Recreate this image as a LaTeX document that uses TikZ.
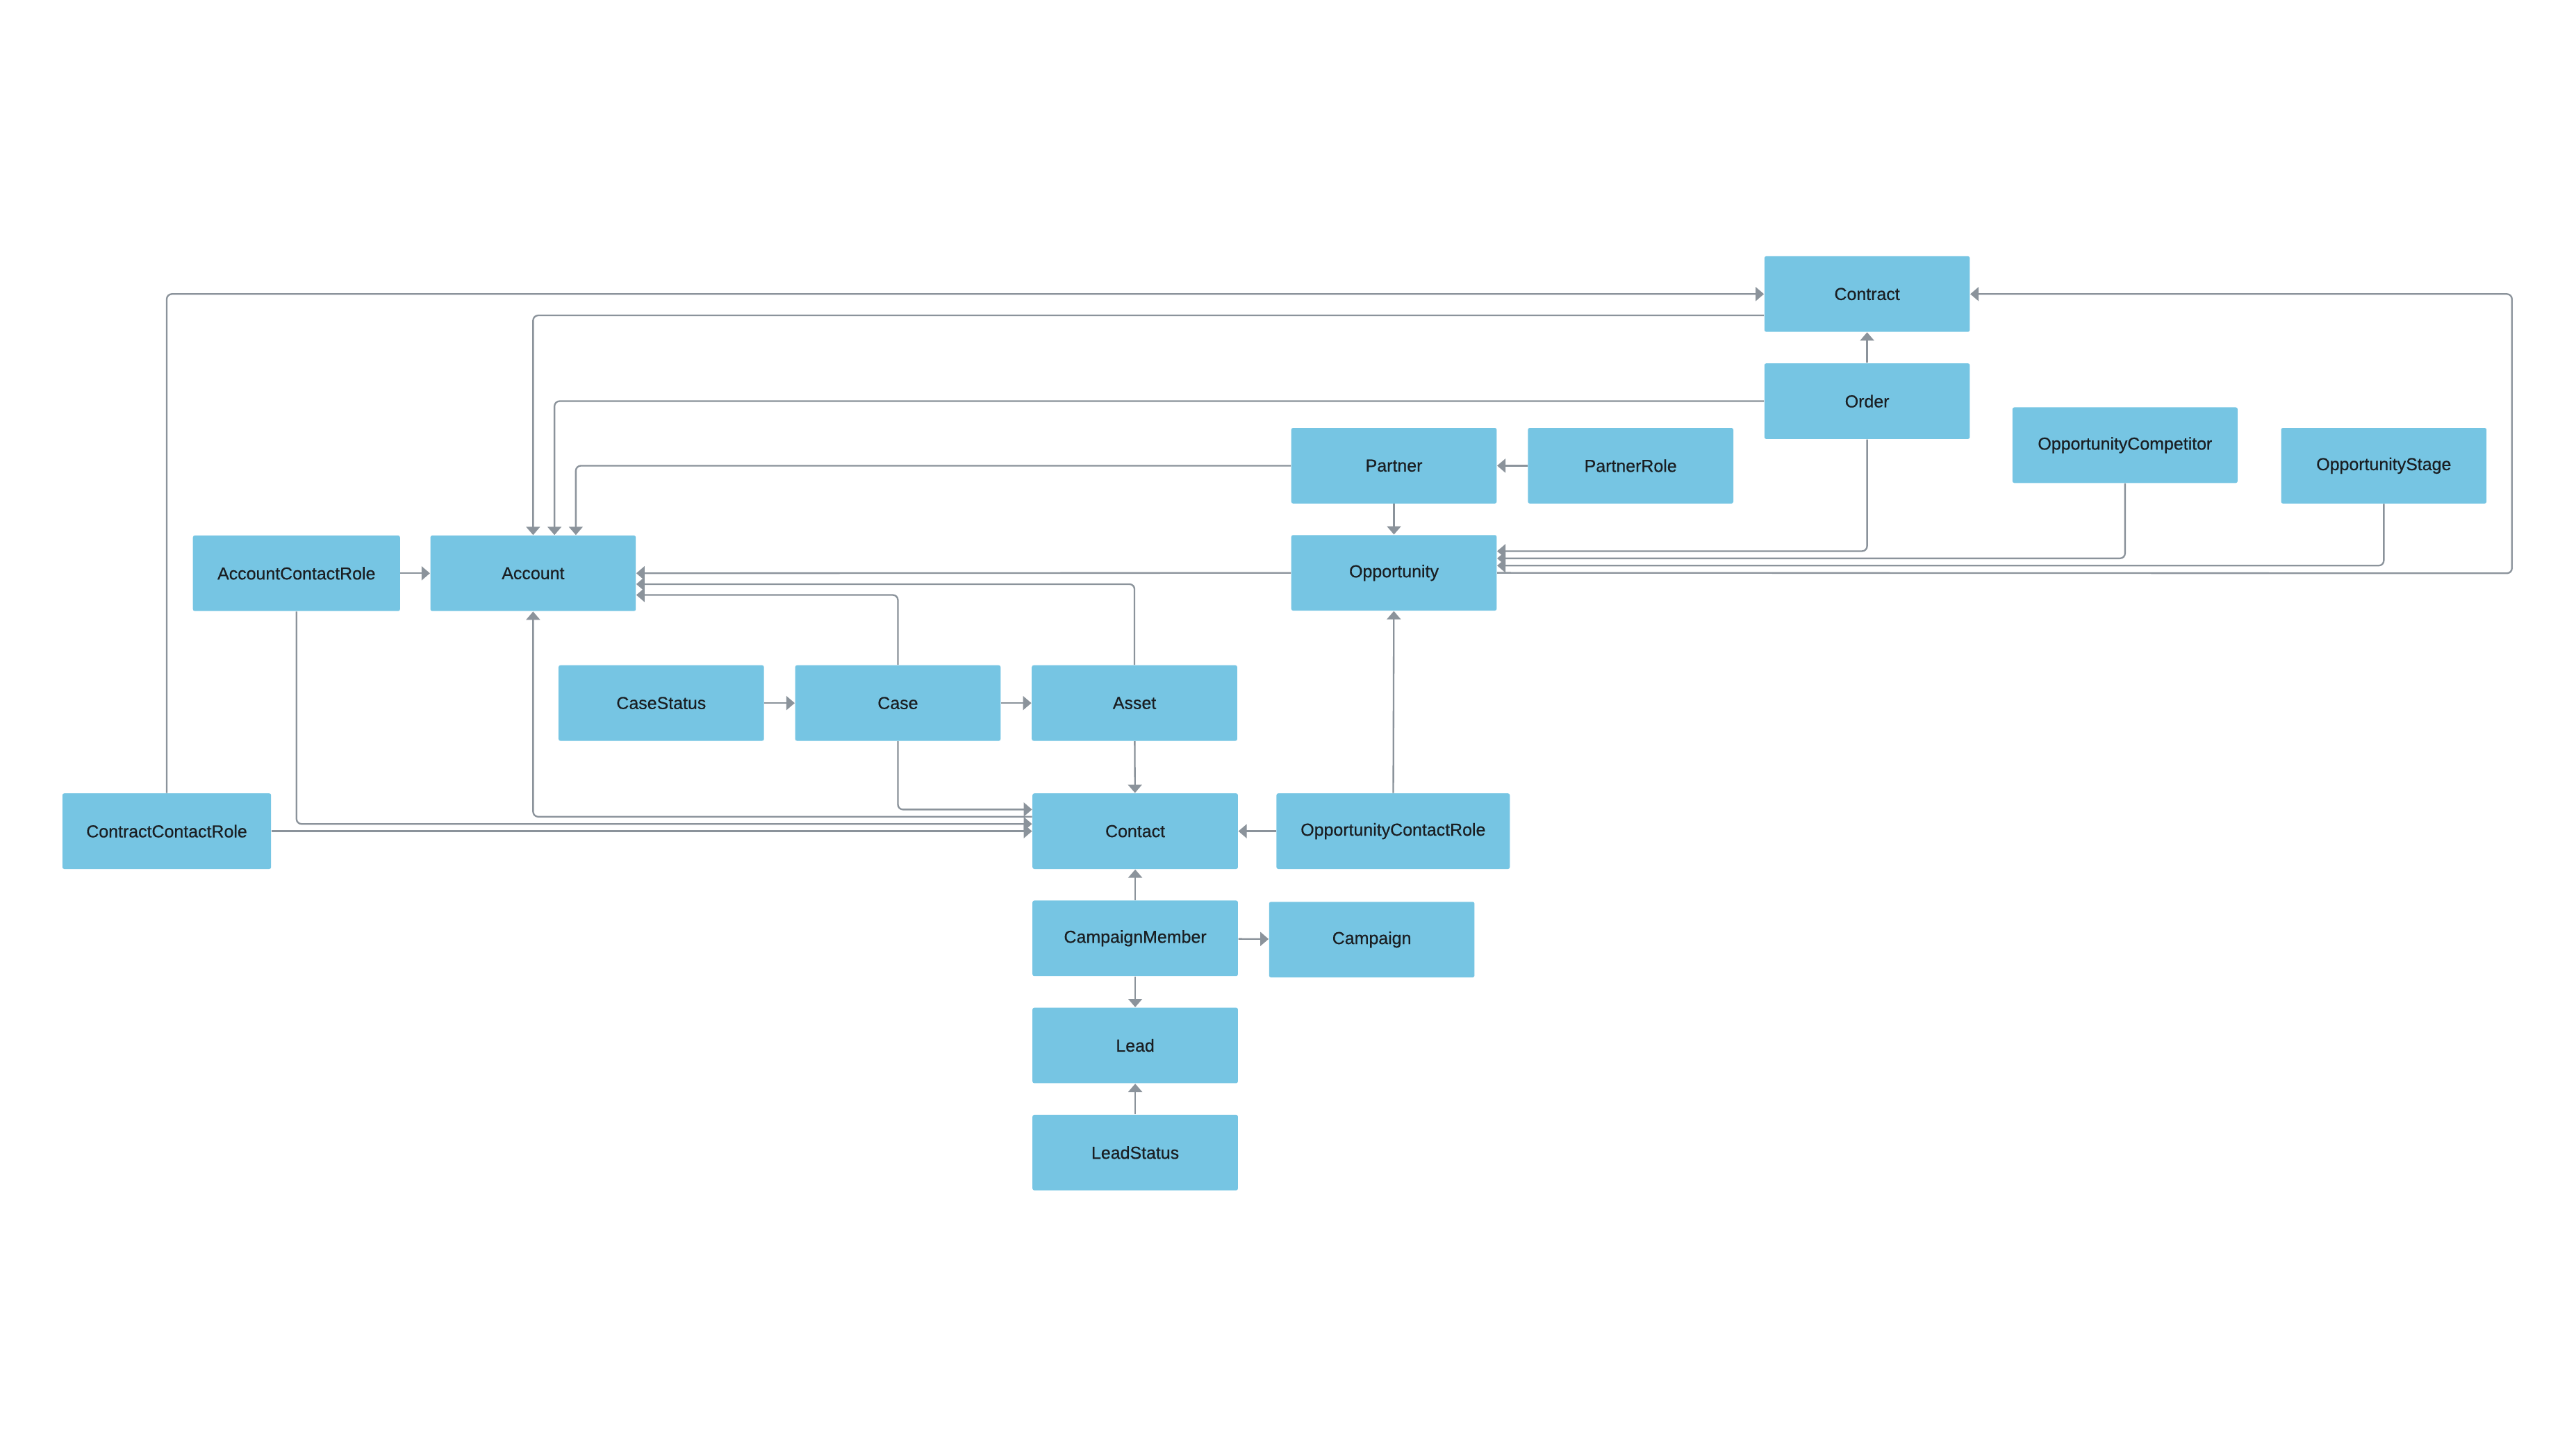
\documentclass[tikz,border=0pt]{standalone}
\usepackage{fontspec}
\setmainfont{Liberation Sans}[FakeBold=0.5]
\usetikzlibrary{arrows.meta}
\definecolor{boxblue}{HTML}{76C5E3}
\definecolor{linkgray}{HTML}{8B939B}
\definecolor{labelink}{HTML}{1A1E22}

\begin{document}
\begin{tikzpicture}[x=0.025cm,y=0.025cm,node distance=3.6cm,>={Triangle[length=3.6pt,width=6pt]},
        entity/.style={rectangle, fill=boxblue, rounded corners=0.8pt, minimum width=3.125cm, minimum height=1.15cm, inner sep=0pt, font=\fontsize{7.5}{9}\selectfont, text=labelink},
        link/.style={->, draw=linkgray, line width=0.7pt, rounded corners=2.2pt}]
        \fill[white] (0,0) rectangle (1568,-882);
        \useasboundingbox (0,0) rectangle (1568,-882);

        % top row
        \node (contract) [entity] at (1136.5,-179) {Contract};
        \node (order) [entity, below of=contract, node distance=1.63cm] {Order};
        \node (partner) [entity] at (848.5,-283.5) {Partner};
        \node (partnerrole) [entity, right of=partner] {PartnerRole};
        \node (oppcomp) [entity, minimum width=3.425cm] at (1293.5,-271) {OpportunityCompetitor};
        \node (oppstage) [entity] at (1451,-283.5) {OpportunityStage};

        % account row
        \node (account) [entity] at (324.5,-349) {Account};
        \node (acr) [entity, left of=account, minimum width=3.15cm] {AccountContactRole};
        \node (opportunity) [entity, below of=partner, node distance=1.63cm] {Opportunity};

        % case row
        \node (casestatus) [entity] at (402.5,-428) {CaseStatus};
        \node (case) [entity, right of=casestatus] {Case};
        \node (asset) [entity, right of=case] {Asset};

        % contact column
        \node (contact) [entity] at (691,-506) {Contact};
        \node (ccr) [entity, minimum width=3.175cm] at (101.5,-506) {ContractContactRole};
        \node (ocr) [entity, minimum width=3.55cm] at (848,-506) {OpportunityContactRole};
        \node (cmember) [entity, below of=contact, node distance=1.63cm] {CampaignMember};
        \node (campaign) [entity] at (835,-572) {Campaign};
        \node (lead) [entity, below of=cmember, node distance=1.63cm] {Lead};
        \node (leadstatus) [entity, below of=lead, node distance=1.63cm] {LeadStatus};

        \coordinate (rail) at (1529,-349);

        % links into Contract and Account from above
        \draw[link] (ccr) |- (contract);
        \draw[link] (order) -- (contract);
        \draw[link] (opportunity.east) -- (rail) |- (contract);
        \draw[link] ([yshift=-3.25mm]contract.west) -| (account);
        \draw[link] (order.west) -| ([xshift=3.25mm]account.north);
        \draw[link] (partner.west) -| ([xshift=6.5mm]account.north);

        % links into Opportunity
        \draw[link] (order) |- ([yshift=3.3mm]opportunity.east);
        \draw[link] (oppcomp) |- ([yshift=2.2mm]opportunity.east);
        \draw[link] (oppstage) |- ([yshift=1.1mm]opportunity.east);
        \draw[link] (partnerrole) -- (partner);
        \draw[link] (partner) -- (opportunity);
        \draw[link] (ocr) -- (opportunity);

        % links into Account from the side
        \draw[link] (acr) -- (account);
        \draw[link] (opportunity) -- (account);
        \draw[link] (asset) |- ([yshift=-1.65mm]account.east);
        \draw[link] (case) |- ([yshift=-3.3mm]account.east);
        \draw[link] ([yshift=2.2mm]contact.west) -| (account);

        % case row
        \draw[link] (casestatus) -- (case);
        \draw[link] (case) -- (asset);

        % links into Contact
        \draw[link] (asset) -- (contact);
        \draw[link] (case) |- ([yshift=3.3mm]contact.west);
        \draw[link] (acr) |- ([yshift=1.1mm]contact.west);
        \draw[link] (ccr) -- (contact);
        \draw[link] (ocr) -- (contact);
        \draw[link] (cmember) -- (contact);

        % campaign and lead
        \draw[link] (cmember) -- (campaign);
        \draw[link] (cmember) -- (lead);
        \draw[link] (leadstatus) -- (lead);
    \end{tikzpicture}
\end{document}
